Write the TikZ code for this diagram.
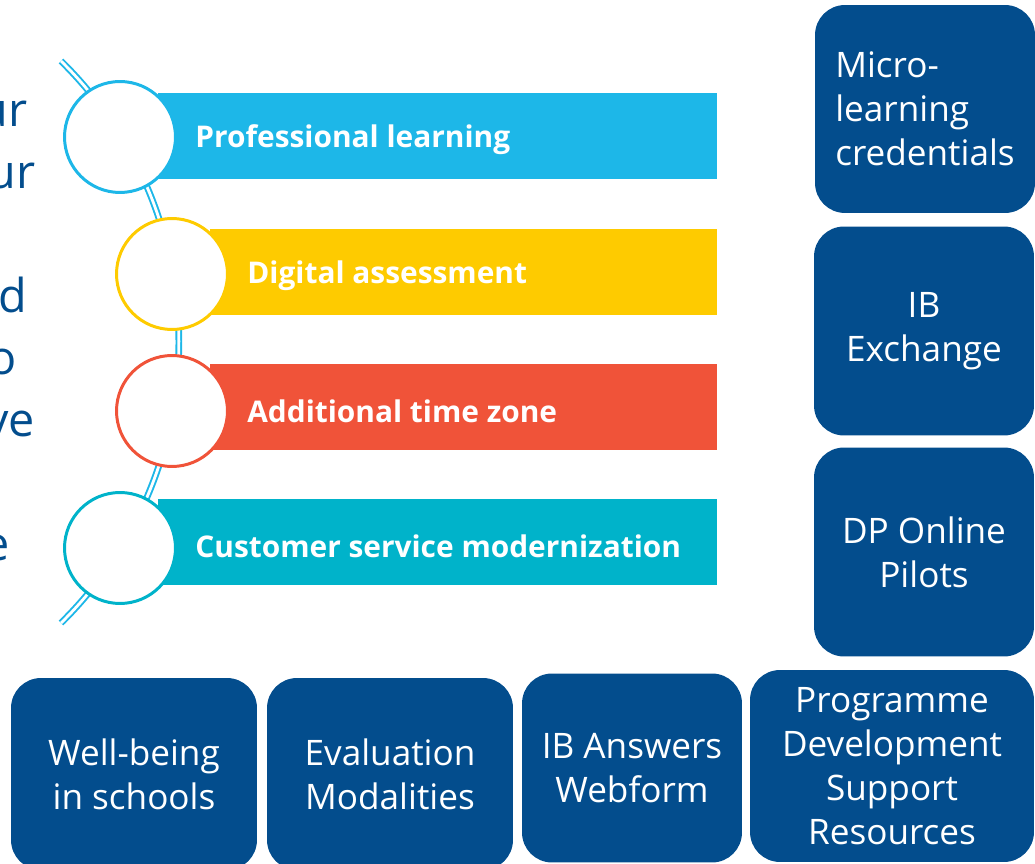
\documentclass[tikz,border=0pt]{standalone}
\usepackage{fontspec}
\setmainfont{Open Sans}
\usetikzlibrary{calc}

\definecolor{ibsky}{HTML}{1DB7E8}
\definecolor{ibgold}{HTML}{FECB00}
\definecolor{ibred}{HTML}{F05339}
\definecolor{ibteal}{HTML}{00B3CA}
\definecolor{ibnavy}{HTML}{034D8D}

\tikzset{
  bar/.style={fill=#1,anchor=west,minimum height=1.74cm,inner sep=0pt},
  tag/.style={anchor=west,inner sep=0pt,text=white,font=\fontsize{17}{20}\selectfont\bfseries},
  ring/.style={circle,draw=#1,line width=1.7pt,fill=white,minimum size=2.22cm,inner sep=0pt},
  tile/.style={fill=ibnavy,rounded corners=0.6cm,text=white,inner sep=0pt,font=\fontsize{20}{25}\selectfont},
  frag/.style={anchor=base east,inner sep=0pt,text=ibnavy,font=\fontsize{26.6}{35}\selectfont},
}

\begin{document}
\begin{tikzpicture}[x=0.02cm,y=-0.02cm]

\useasboundingbox (0,0) rectangle (1035,864);

% text running off the left edge
\node[frag] (fa) at (28,127) {ur};
\node[frag] (fb) at (36,189) {ur};
\node[frag] (fc) at (27,313) {d};
\node[frag] (fd) at (17,375) {o};
\node[frag] (fe) at (35,437) {ve};
\node[frag] (ff) at (10,561) {e};

% the spine
\coordinate (spinetop) at (61,61);
\draw[ibsky,line width=1.1pt,double=white,double distance=1.6pt] (spinetop) arc[start angle=-45.5,end angle=45.5,radius=394] coordinate (spinebot);

% bars
\node[bar=ibsky,minimum width=11.18cm] (bar1) at (158,136) {};
\node[bar=ibgold,minimum width=10.14cm] (bar2) at (210,272) {};
\node[bar=ibred,minimum width=10.14cm] (bar3) at (210,407) {};
\node[bar=ibteal,minimum width=11.18cm] (bar4) at (158,542) {};

% labels on the bars
\node[tag] (t1) at ($(bar1.west)+(37,4)$) {Professional learning};
\node[tag] (t2) at ($(bar2.west)+(37,4)$) {Digital assessment};
\node[tag] (t3) at ($(bar3.west)+(37,4)$) {Additional time zone};
\node[tag] (t4) at ($(bar4.west)+(37,4)$) {Customer service modernization};

% circles on the spine
\node[ring=ibsky] (c1) at (120,137) {};
\node[ring=ibgold] (c2) at (172,274) {};
\node[ring=ibred] (c3) at (172,411) {};
\node[ring=ibteal] (c4) at (120,548) {};

% right column
\node[tile,minimum width=4.4cm,minimum height=4.16cm,align=left] (rb1) at (925,109) {Micro-\\learning\\credentials};
\node[tile,minimum width=4.4cm,minimum height=4.18cm,align=center] (rb2) at (924,331) {IB\\Exchange};
\node[tile,minimum width=4.4cm,minimum height=4.18cm,align=center] (rb3) at (924,552) {DP Online\\Pilots};

% bottom row
\node[tile,minimum width=4.92cm,minimum height=3.84cm,align=center] (bb1) at (134,774) {Well-being\\in schools};
\node[tile,minimum width=4.92cm,minimum height=3.84cm,align=center] (bb2) at (390,774) {Evaluation\\Modalities};
\node[tile,minimum width=4.4cm,minimum height=3.78cm,align=center] (bb3) at (632,768) {IB Answers\\Webform};
\node[tile,minimum width=5.68cm,minimum height=3.84cm,align=center] (bb4) at (892,766) {Programme\\Development\\Support\\Resources};

\end{tikzpicture}
\end{document}
